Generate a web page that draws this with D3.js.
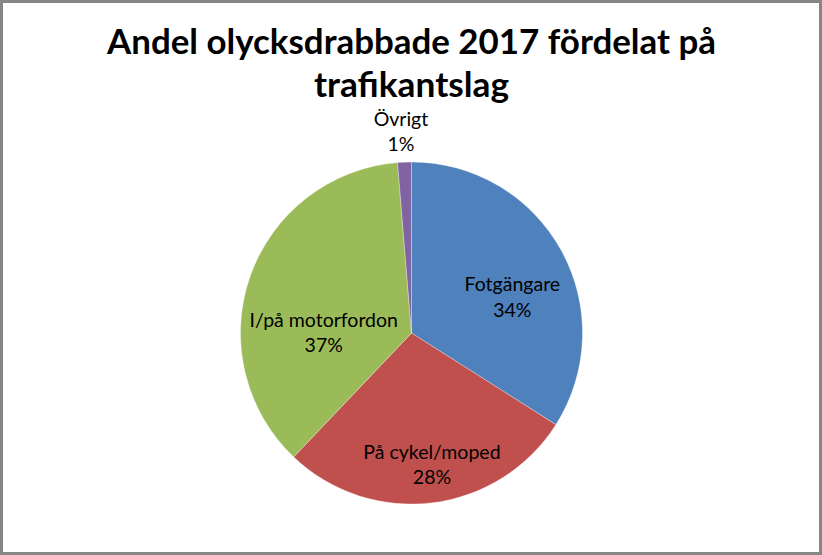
<!DOCTYPE html>
<html><head><meta charset="utf-8">
<script src="https://cdn.jsdelivr.net/npm/d3@7/dist/d3.min.js"></script>
<style>html,body{margin:0;padding:0;background:#fff;}svg{display:block;}</style>
</head><body>
<script>
const categories = ["Fotgängare", "På cykel/moped", "I/på motorfordon", "Övrigt"];
const values = [34.0, 28.1, 36.6, 1.3];
const labels = ["34%", "28%", "37%", "1%"];
const colors = ["#4F81BD", "#C0504D", "#9BBB59", "#8064A2"];
const titleLines = ["Andel olycksdrabbade 2017 fördelat på", "trafikantslag"];

// label placement (polar, relative to pie centre): angle in degrees clockwise from top, distance in px
const labelAngle = [73.8, 171.6, 266, 356.9];
const labelDist = [105, 140, 88, 195];

const W = 822, H = 555;
const cx = 411.5, cy = 333, R = 171;

const svg = d3.select("body").append("svg").attr("width", W).attr("height", H);
svg.append("rect").attr("x", 1.5).attr("y", 1.5).attr("width", W - 3).attr("height", H - 3)
  .attr("fill", "#fff").attr("stroke", "#868686").attr("stroke-width", 3);

const titleWidths = [609, 195];
const titleY = [53.5, 97];
svg.selectAll("text.title").data(titleLines).join("text")
  .attr("class", "title")
  .attr("x", cx).attr("y", (d, i) => titleY[i])
  .attr("text-anchor", "middle")
  .attr("font-family", "Lato, 'Open Sans', sans-serif")
  .attr("font-weight", "bold").attr("font-size", 35)
  .attr("fill", "#000")
  .attr("textLength", (d, i) => titleWidths[i])
  .attr("lengthAdjust", "spacingAndGlyphs")
  .text(d => d);

const data = categories.map((c, i) => ({ name: c, value: values[i], label: labels[i], i }));
const pie = d3.pie().sort(null).value(d => d.value);
const arc = d3.arc().innerRadius(0).outerRadius(R);
const arcs = pie(data);

const g = svg.append("g").attr("transform", `translate(${cx},${cy})`);
g.selectAll("path").data(arcs).join("path")
  .attr("d", arc)
  .attr("fill", d => colors[d.data.i])
  .attr("stroke", "rgba(255,255,255,0.5)").attr("stroke-width", 0.6);

const lab = g.selectAll("g.lab").data(arcs).join("g").attr("class", "lab")
  .attr("transform", d => {
    const a = labelAngle[d.data.i] * Math.PI / 180, r = labelDist[d.data.i];
    return `translate(${r * Math.sin(a)},${-r * Math.cos(a)})`;
  });
lab.append("text").attr("y", -12.5).attr("text-anchor", "middle")
  .attr("font-family", "Lato, 'Open Sans', sans-serif").attr("font-size", 19.5).attr("fill", "#000")
  .text(d => d.data.name);
lab.append("text").attr("y", 13).attr("text-anchor", "middle")
  .attr("font-family", "Lato, 'Open Sans', sans-serif").attr("font-size", 19.5).attr("fill", "#000")
  .text(d => d.data.label);
</script>
</body></html>
